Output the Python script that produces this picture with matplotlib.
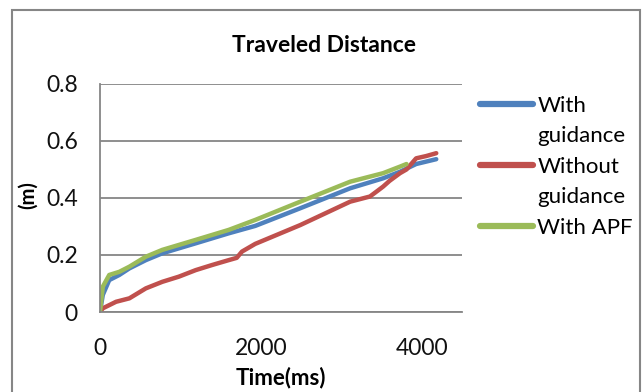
import matplotlib.pyplot as plt
from matplotlib.lines import Line2D
from matplotlib.patches import Rectangle

# traveled distance (m) over time (ms) for the three runs
t_guid = [0, 35, 115, 240, 365, 570, 775, 1190, 1600, 1930, 2490, 3110, 3520, 3730, 3930, 4180]
d_guid = [0, 0.06, 0.112, 0.13, 0.153, 0.182, 0.206, 0.241, 0.276, 0.302, 0.364, 0.434, 0.469,
          0.492, 0.519, 0.536]

t_noguid = [0, 35, 200, 365, 570, 775, 980, 1190, 1395, 1600, 1700, 1765, 1930, 2490, 3110,
            3355, 3450, 3520, 3600, 3730, 3810, 3930, 4055, 4180]
d_noguid = [0, 0.013, 0.036, 0.048, 0.083, 0.106, 0.124, 0.147, 0.165, 0.182, 0.19, 0.212, 0.239,
            0.305, 0.387, 0.405, 0.425, 0.44, 0.46, 0.487, 0.50, 0.539, 0.547, 0.557]

t_apf = [0, 35, 115, 240, 365, 570, 775, 1190, 1600, 1930, 2490, 3110, 3520, 3730, 3810]
d_apf = [0, 0.089, 0.13, 0.141, 0.159, 0.194, 0.218, 0.253, 0.288, 0.323, 0.387, 0.457, 0.487,
         0.51, 0.519]

labels = ["With guidance", "Without guidance", "With APF"]
colors = ["#4F81BD", "#C0504D", "#9BBB59"]

plt.rcParams['font.family'] = ['Lato', 'DejaVu Sans']

fig = plt.figure(figsize=(6.43, 3.92), dpi=100)
ax = fig.add_axes([0.1555, 0.204, 0.563, 0.582])

lines = []
for t, d, c, lab in zip([t_guid, t_noguid, t_apf], [d_guid, d_noguid, d_apf], colors, labels):
    ln, = ax.plot(t, d, color=c, lw=3.2, label=lab, solid_capstyle='round')
    lines.append(ln)

ax.set_xlim(0, 4500)
ax.set_ylim(0, 0.8)
ax.set_xticks([0, 2000, 4000])
ax.set_yticks([0, 0.2, 0.4, 0.6, 0.8])
ax.set_yticklabels(["0", "0.2", "0.4", "0.6", "0.8"])
ax.tick_params(length=0, labelsize=16.5, pad=16, labelcolor='#111111')
ax.tick_params(axis='x', pad=19)
ax.grid(axis='y', color='#868686', lw=1.3)
ax.set_axisbelow(True)
for s in ['top', 'right']:
    ax.spines[s].set_visible(False)
for s in ['left', 'bottom']:
    ax.spines[s].set_color('#868686')
    ax.spines[s].set_linewidth(1.3)

fig.text(0.504, 0.885, "Traveled Distance", fontsize=16.5, fontweight='bold',
         ha='center', va='center')
ax.set_xlabel("Time(ms)", fontsize=16, fontweight='bold', labelpad=5)
fig.text(0.043, 0.503, "(m)", rotation=90, fontsize=14.5, fontweight='bold',
         ha='center', va='center')

# legend wraps long labels onto a second row, the swatch sits on the first
blank = Line2D([], [], color='none')
rows = []
for ln in lines:
    lab = ln.get_label()
    if lab == "With APF":
        rows.append((ln, lab))
    else:
        first, rest = lab.split(" ", 1)
        rows.append((ln, first))
        rows.append((blank, rest))
leg = fig.legend([r[0] for r in rows], [r[1] for r in rows], loc='upper left',
                 bbox_to_anchor=(0.732, 0.778), frameon=False, fontsize=16,
                 handlelength=2.4, handletextpad=0.2, labelspacing=0.47,
                 borderaxespad=0)
for h in leg.get_lines():
    h.set_linewidth(4.5)

# outer chart border
fig.patches.append(Rectangle((0.019, -0.05), 0.976, 1.025, transform=fig.transFigure,
                             fill=False, edgecolor='#868686', lw=1.5))

fig.savefig("out.png", dpi=100)
